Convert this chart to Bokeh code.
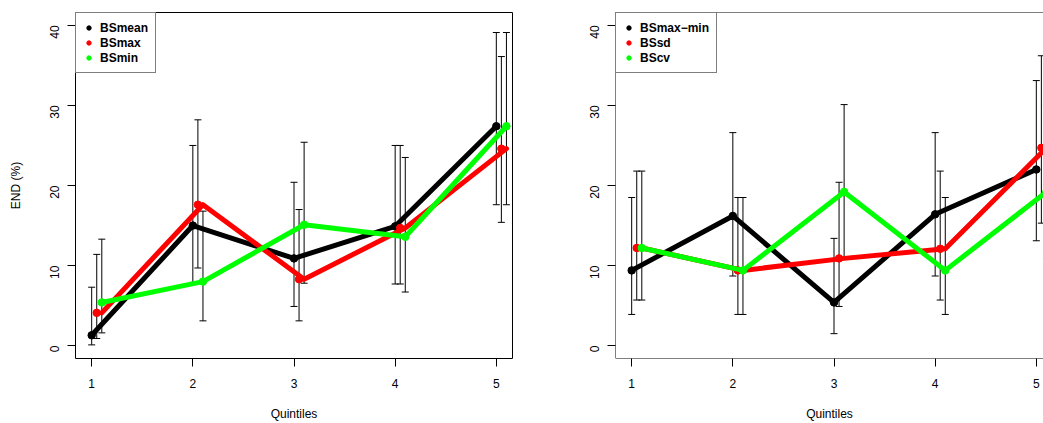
import math
from bokeh.plotting import figure
from bokeh.layouts import row
from bokeh.models import (Range1d, FixedTicker, Whisker, TeeHead, ColumnDataSource,
                          Legend, LegendItem, Span)
from bokeh.embed import file_html
from bokeh.resources import INLINE

# ---------------- data ----------------
quintiles = [1, 2, 3, 4, 5]
y_ticks = [0, 10, 20, 30, 40]

# left panel
bs_mean = [1.3, 15.0, 10.9, 14.9, 27.4]
bs_mean_lo = [0.1, 7.9, 4.9, 7.7, 17.6]
bs_mean_hi = [7.3, 25.0, 20.4, 25.0, 39.1]

bs_max = [4.1, 17.6, 8.3, 14.7, 24.6]
bs_max_lo = [0.9, 9.7, 3.1, 7.7, 15.4]
bs_max_hi = [11.4, 28.2, 17.0, 25.0, 36.1]

bs_min = [5.4, 8.0, 15.1, 13.6, 27.4]
bs_min_lo = [1.6, 3.1, 7.8, 6.7, 17.6]
bs_min_hi = [13.3, 16.8, 25.4, 23.5, 39.1]

# right panel
bs_range = [9.4, 16.2, 5.4, 16.4, 22.0]
bs_range_lo = [3.9, 8.7, 1.5, 8.7, 13.1]
bs_range_hi = [18.5, 26.6, 13.4, 26.6, 33.1]

bs_sd = [12.2, 9.4, 10.9, 12.1, 24.7]
bs_sd_lo = [5.7, 3.9, 4.9, 5.7, 15.3]
bs_sd_hi = [21.8, 18.5, 20.4, 21.8, 36.2]

bs_cv = [12.2, 9.4, 19.2, 9.4, 19.2]
bs_cv_lo = [5.7, 3.9, 10.9, 3.9, 10.9]
bs_cv_hi = [21.8, 18.5, 30.1, 18.5, 30.0]

left_names = ["BSmean", "BSmax", "BSmin"]
right_names = ["BSmax\u2212min", "BSsd", "BScv"]

FONT = "Liberation Sans"
COLORS = ["#000000", "#ff0000", "#00ff00"]
# (point offset, line offset) per series, as in the original figure
OFFSETS = [(0.0, 0.0), (0.05, 0.1), (0.1, 0.1)]

Y0, Y1 = -1.6, 41.6
X0 = 0.84


def make_panel(series, names, width, min_left, min_right, x_end, ylabel, boxed):
    p = figure(width=width, height=423, output_backend="svg", toolbar_location=None,
               x_range=Range1d(X0, x_end), y_range=Range1d(Y0, Y1),
               min_border_left=min_left, min_border_right=min_right,
               min_border_top=12, min_border_bottom=65)
    p.xgrid.visible = False
    p.ygrid.visible = False
    p.background_fill_color = "white"
    p.border_fill_color = "white"
    if boxed:
        p.outline_line_color = "black"
        p.outline_line_width = 1
    else:
        p.outline_line_color = None
        for loc, dim in [(Y0, "width"), (Y1, "width"), (X0, "height")]:
            p.add_layout(Span(location=loc, dimension=dim, line_color="black", line_width=1))

    for ax in (p.xaxis[0], p.yaxis[0]):
        ax.axis_line_color = None
        ax.major_tick_out = 8
        ax.major_tick_in = 0
        ax.minor_tick_out = 0
        ax.minor_tick_in = 0
        ax.major_tick_line_color = "black"
        ax.major_label_text_font = FONT
        ax.major_label_text_font_size = "12px"
        ax.major_label_text_color = "black"
        ax.axis_label_text_font = FONT
        ax.axis_label_text_font_size = "12px"
        ax.axis_label_text_font_style = "normal"
        ax.axis_label_text_color = "black"
    p.xaxis.ticker = FixedTicker(ticks=quintiles)
    p.yaxis.ticker = FixedTicker(ticks=y_ticks)
    p.xaxis.axis_label = "Quintiles"
    p.xaxis.major_label_standoff = 12
    p.xaxis.axis_label_standoff = 16
    p.yaxis.major_label_orientation = math.pi / 2
    p.yaxis.major_label_standoff = 13
    if ylabel:
        p.yaxis.axis_label = ylabel
        p.yaxis.axis_label_standoff = 20

    # error bars first (underneath)
    for (vals, lo, hi), color, (poff, loff) in zip(series, COLORS, OFFSETS):
        src = ColumnDataSource(dict(x=[q + poff for q in quintiles], lo=lo, hi=hi))
        w = Whisker(base="x", lower="lo", upper="hi", source=src, level="underlay",
                    line_color="black", line_width=1,
                    upper_head=TeeHead(size=7, line_color="black", line_width=1),
                    lower_head=TeeHead(size=7, line_color="black", line_width=1))
        p.add_layout(w)

    dots = []
    for (vals, lo, hi), color, (poff, loff) in zip(series, COLORS, OFFSETS):
        p.line([q + loff for q in quintiles], vals, line_color=color, line_width=5,
               line_join="round", line_cap="round")
        r = p.scatter([q + poff for q in quintiles], vals, size=7.5, marker="circle",
                      fill_color=color, line_color=color)
        dots.append(r)

    legend = Legend(items=[LegendItem(label=n, renderers=[r]) for n, r in zip(names, dots)],
                    location="top_left", margin=0, padding=7, spacing=0,
                    glyph_width=11, glyph_height=15, label_height=15, label_standoff=6,
                    label_text_font=FONT, label_text_font_size="12px",
                    label_text_font_style="bold", label_text_color="black",
                    border_line_color="black", border_line_width=1,
                    background_fill_color="white", background_fill_alpha=1)
    p.add_layout(legend)
    return p


left_series = [(bs_mean, bs_mean_lo, bs_mean_hi),
               (bs_max, bs_max_lo, bs_max_hi),
               (bs_min, bs_min_lo, bs_min_hi)]
right_series = [(bs_range, bs_range_lo, bs_range_hi),
                (bs_sd, bs_sd_lo, bs_sd_hi),
                (bs_cv, bs_cv_lo, bs_cv_hi)]

# frame widths: left 437 px spans 0.84..5.16; right frame 428 px at the same scale
p1 = make_panel(left_series, left_names, 540, 75, 28, 5.16, "END (%)", True)
p2 = make_panel(right_series, right_names, 503, 75, 0, X0 + 428 * 4.32 / 437, None, False)

layout = row(p1, p2)
open("out.html", "w").write(file_html(layout, INLINE))
